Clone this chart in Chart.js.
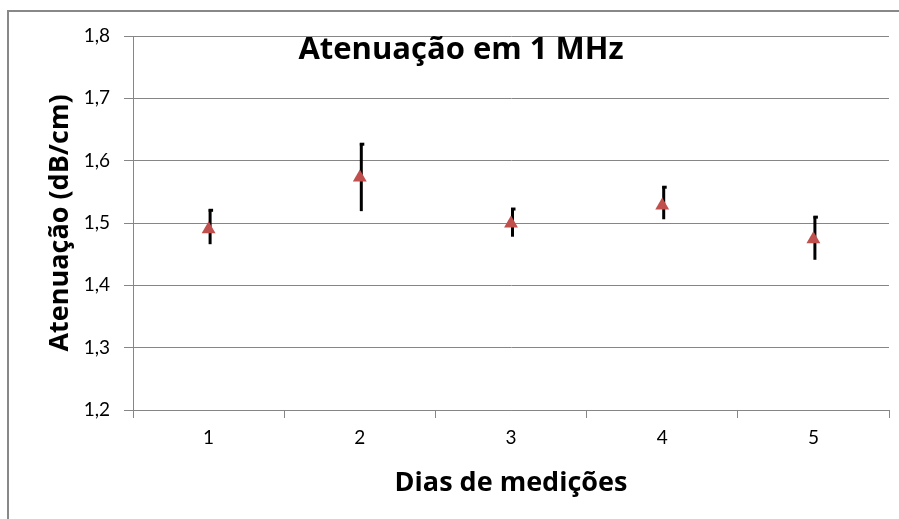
<!DOCTYPE html>
<html>
<head>
<meta charset="utf-8">
<script src="https://cdn.jsdelivr.net/npm/chart.js@4/dist/chart.umd.min.js"></script>
<style>
	html, body { margin: 0; padding: 0; background: #fff; }
	#wrap { position: relative; width: 899px; height: 519px; overflow: hidden; }
	#frame { position: absolute; left: 7px; top: 10px; width: 1000px; height: 1000px; border-left: 2px solid #888; border-top: 2px solid #888; }
	canvas { position: absolute; left: 0; top: 0; }
</style>
</head>
<body>
<div id="wrap">
	<div id="frame"></div>
	<canvas id="chart" width="899" height="519"></canvas>
</div>
<script>
// dados
const dias = ["1", "2", "3", "4", "5"];
const atenuacao = [1.490, 1.573, 1.499, 1.528, 1.474];
const erroSup = [1.522, 1.628, 1.524, 1.559, 1.511];
const erroInf = [1.466, 1.519, 1.478, 1.506, 1.441];
const yMin = 1.2, yMax = 1.8, yStep = 0.1;

const gridColor = "#868686";
const fontFamily = "Lato, 'Open Sans', sans-serif";
const titleFamily = "'Open Sans', Lato, sans-serif";

// barras de erro desenhadas por baixo dos triângulos
const errorBars = {
	id: "errorBars",
	beforeDatasetsDraw(chart) {
		const { ctx, scales: { x, y } } = chart;
		ctx.save();
		ctx.strokeStyle = "#000";
		ctx.lineWidth = 3;
		dias.forEach((d, i) => {
			const px = x.getPixelForValue(i) + 1.5;
			const top = y.getPixelForValue(erroSup[i]);
			const bot = y.getPixelForValue(erroInf[i]);
			ctx.beginPath();
			ctx.moveTo(px, top);
			ctx.lineTo(px, bot);
			ctx.stroke();
			// pequeno traço no topo
			ctx.beginPath();
			ctx.moveTo(px - 1.5, top + 1);
			ctx.lineTo(px + 3, top + 1);
			ctx.stroke();
		});
		ctx.restore();
	},
};

// título dentro da área do gráfico
const innerTitle = {
	id: "innerTitle",
	afterDraw(chart) {
		const { ctx, chartArea } = chart;
		ctx.save();
		ctx.font = "bold 31px " + titleFamily;
		ctx.fillStyle = "#000";
		ctx.textAlign = "center";
		ctx.textBaseline = "middle";
		ctx.fillText("Atenuação em 1 MHz", chartArea.left + 328, chartArea.top + 14);
		ctx.restore();
	},
};

const ctx = document.getElementById("chart");

new Chart(ctx, {
	type: "line",
	data: {
		labels: dias,
		datasets: [
			{
				data: atenuacao,
				showLine: false,
				pointStyle: "triangle",
				pointRadius: 8,
				pointHoverRadius: 8,
				backgroundColor: "#C0504D",
				borderColor: "#C0504D",
				pointBorderWidth: 0,
			},
		],
	},
	options: {
		responsive: false,
		animation: false,
		events: [],
		layout: {
			padding: { top: 36, right: 10, left: 0, bottom: 0 },
		},
		plugins: {
			legend: { display: false },
			tooltip: { enabled: false },
		},
		scales: {
			x: {
				offset: true,
				grid: {
					offset: true,
					drawOnChartArea: false,
					tickLength: 8,
					color: gridColor,
				},
				border: { color: gridColor },
				ticks: {
					color: "#000",
					padding: 8,
					font: { family: fontFamily, size: 19 },
				},
				title: {
					display: true,
					text: "Dias de medições",
					color: "#000",
					padding: { top: 0, bottom: 19 },
					font: { family: titleFamily, size: 27, weight: "bold" },
				},
				afterFit(scale) {
					scale.height = 109;
				},
			},
			y: {
				min: yMin,
				max: yMax,
				grid: {
					tickLength: 9,
					color: gridColor,
				},
				border: { color: gridColor },
				ticks: {
					stepSize: yStep,
					color: "#000",
					padding: 14,
					font: { family: fontFamily, size: 19 },
					callback: (v) => v.toFixed(1).replace(".", ","),
				},
				title: {
					display: true,
					text: "Atenuação (dB/cm)",
					color: "#000",
					padding: { top: 44, bottom: 0 },
					font: { family: titleFamily, size: 27, weight: "bold" },
				},
				afterFit(scale) {
					scale.width = 133;
				},
			},
		},
	},
	plugins: [errorBars, innerTitle],
});
</script>
</body>
</html>
